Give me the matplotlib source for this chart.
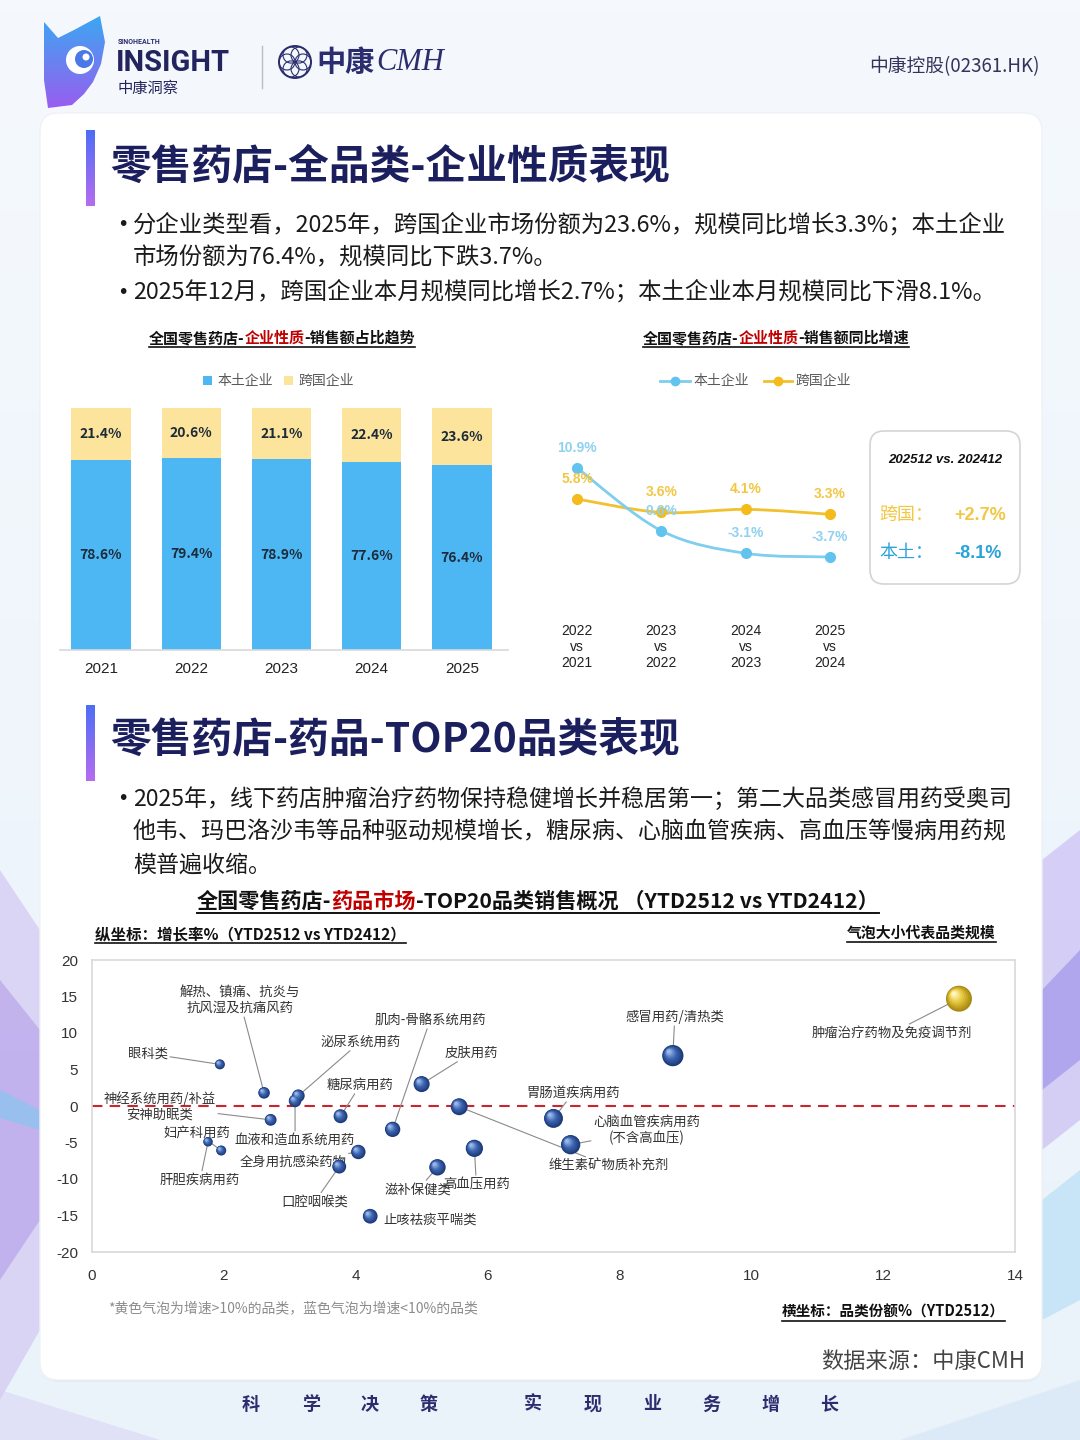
import matplotlib
matplotlib.use('Agg')
import matplotlib.pyplot as plt
import numpy as np
from matplotlib.patches import FancyBboxPatch, Rectangle, Polygon, Circle, PathPatch
from matplotlib.path import Path
import matplotlib.transforms as mtransforms
from matplotlib.colors import to_rgb

plt.rcParams['font.family'] = ['Noto Sans CJK SC', 'DejaVu Sans']
plt.rcParams['axes.unicode_minus'] = False

# ---------------- data ----------------
years = ['2021', '2022', '2023', '2024', '2025']
local_share = [78.6, 79.4, 78.9, 77.6, 76.4]
mnc_share = [21.4, 20.6, 21.1, 22.4, 23.6]

growth_periods = ['2022\nvs\n2021', '2023\nvs\n2022', '2024\nvs\n2023', '2025\nvs\n2024']
local_growth = [10.9, 0.6, -3.1, -3.7]
mnc_growth = [5.8, 3.6, 4.1, 3.3]

month_title = '202512 vs. 202412'
month_mnc = '+2.7%'
month_local = '-8.1%'

categories = ['肿瘤治疗药物及免疫调节剂', '感冒用药/清热类', '心脑血管疾病用药\n(不含高血压)',
              '胃肠道疾病用药', '高血压用药', '维生素矿物质补充剂', '滋补保健类', '皮肤用药',
              '肌肉-骨骼系统用药', '止咳祛痰平喘类', '全身用抗感染药物', '糖尿病用药', '口腔咽喉类',
              '泌尿系统用药', '血液和造血系统用药', '神经系统用药/补益\n安神助眠类',
              '解热、镇痛、抗炎与\n抗风湿及抗痛风药', '肝胆疾病用药', '妇产科用药', '眼科类']
cat_share = [13.15, 8.81, 7.26, 7.0, 5.8, 5.57, 5.24, 5.0, 4.56, 4.22, 4.04, 3.77, 3.75,
             3.13, 3.08, 2.71, 2.61, 1.76, 1.96, 1.94]
cat_growth = [14.7, 6.9, -5.3, -1.7, -5.8, -0.1, -8.4, 3.0, -3.2, -15.1, -6.3, -1.4, -8.3,
              1.4, 0.7, -1.9, 1.8, -4.9, -6.1, 5.7]
market_growth = '-0.3%'

# label placement (layout only)
label_pos = [(12.13, 10.0), (8.84, 12.2), (8.41, -3.3), (7.3, 1.8), (5.83, -10.7),
             (7.83, -8.2), (4.95, -11.4), (5.76, 7.3), (5.13, 11.8), (5.13, -15.6),
             (3.05, -7.6), (4.07, 2.9), (3.38, -13.1), (4.07, 8.8), (3.08, -4.65),
             (1.03, -0.1), (2.24, 14.5), (1.64, -10.1), (1.59, -3.65), (0.85, 7.2)]
no_leader = {'止咳祛痰平喘类'}

W, H = 1080, 1440
fig = plt.figure(figsize=(W / 100, H / 100), dpi=100)
renderer = fig.canvas.get_renderer()

def rect(x0, y0, x1, y1):
    return [x0 / W, 1 - y1 / H, (x1 - x0) / W, (y1 - y0) / H]

ax0 = fig.add_axes([0, 0, 1, 1])
ax0.set_xlim(0, W)
ax0.set_ylim(H, 0)
ax0.axis('off')

# ---------------- background ----------------
bg = np.ones((H // 10, W // 10, 3))
top = np.array(to_rgb('#f5f9fd'))
bot = np.array(to_rgb('#eaf2fa'))
for i in range(bg.shape[0]):
    t = i / (bg.shape[0] - 1)
    bg[i, :, :] = top * (1 - t) + bot * t
ax0.imshow(bg, extent=(0, W, H, 0), aspect='auto', zorder=0)

deco = [
    ([(0, 870), (40, 930), (40, 1330), (0, 1400)], '#cbbcf0', 0.55),
    ([(0, 980), (40, 1030), (40, 1220), (0, 1280)], '#a58ae6', 0.45),
    ([(0, 1090), (40, 1110), (40, 1130), (0, 1118)], '#7fc9f0', 0.6),
    ([(0, 1390), (160, 1440), (0, 1440)], '#d6ccf3', 0.45),
    ([(1042, 860), (1080, 830), (1080, 1120), (1042, 1150)], '#bdaaf2', 0.5),
    ([(1042, 990), (1080, 950), (1080, 1060), (1042, 1090)], '#6c5ce0', 0.35),
    ([(1042, 1200), (1080, 1170), (1080, 1300), (1042, 1320)], '#9fd3f4', 0.45),
    ([(900, 1440), (1080, 1380), (1080, 1440)], '#d3e6f7', 0.6),
]
for pts, c, a in deco:
    ax0.add_patch(Polygon(pts, closed=True, fc=c, ec='none', alpha=a, zorder=0.5))

ax0.add_patch(FancyBboxPatch((42, 117), 1000, 1265, boxstyle='round,pad=0,rounding_size=18',
                             fc='#dfe6ee', ec='none', alpha=0.6, zorder=0.8))
ax0.add_patch(FancyBboxPatch((40, 113), 1002, 1267, boxstyle='round,pad=0,rounding_size=18',
                             fc='white', ec='#eef1f5', lw=1, zorder=1))

# ---------------- header ----------------
logo_poly = Polygon([(44, 22), (58, 38), (74, 30), (100, 16), (105, 42), (101, 64), (93, 82),
                     (84, 94), (72, 105), (48, 108), (44, 80)], closed=True, fc='none', ec='none')
ax0.add_patch(logo_poly)
grad = np.zeros((60, 10, 3))
c1, c2 = np.array(to_rgb('#3aa8f2')), np.array(to_rgb('#9a5cf0'))
for i in range(60):
    t = i / 59
    grad[i, :, :] = c1 * (1 - t) + c2 * t
im = ax0.imshow(grad, extent=(40, 110, 110, 14), aspect='auto', zorder=2)
im.set_clip_path(logo_poly)
ax0.add_patch(Circle((80, 60), 14, fc='white', ec='none', zorder=3))
ax0.add_patch(Circle((84, 59), 9, fc='#4a78e6', ec='none', zorder=3.1))
ax0.add_patch(Circle((86, 57), 3.5, fc='white', ec='none', zorder=3.2))

ax0.text(118, 42, 'SINOHEALTH', fontsize=5, fontweight='bold', color='#2b2d6e', va='center',
         family=['Roboto', 'DejaVu Sans'], zorder=3)
ax0.text(116, 63, 'INSIGHT', fontsize=21, fontweight='bold', color='#23245e', va='center',
         family=['Roboto', 'DejaVu Sans'], zorder=3)
ax0.text(118, 88, '中康洞察', fontsize=11, color='#23245e', va='center', zorder=3)
ax0.plot([262, 262], [46, 88], color='#b8bcc8', lw=1, zorder=3)
ax0.add_patch(Circle((295, 62), 16, fc='none', ec='#2b2d6e', lw=1.4, zorder=3))
for ang in np.arange(0, 360, 60):
    r = np.deg2rad(ang)
    ax0.add_patch(Circle((295 + 8 * np.cos(r), 62 + 8 * np.sin(r)), 8, fc='none',
                         ec='#2b2d6e', lw=0.8, zorder=3))
ax0.text(316, 62, '中康', fontsize=21, fontweight='bold', color='#2b2d6e', va='center', zorder=3)
ax0.text(376, 63, 'CMH', fontsize=22, style='italic', color='#2b2d6e', va='center',
         family=['Liberation Serif', 'DejaVu Serif'], zorder=3)
ax0.text(1040, 67, '中康控股(02361.HK)', fontsize=13.5, color='#33345a', va='center', ha='right', zorder=3)

# ---------------- helpers ----------------
def rich(x, y, parts, size, weight='bold', ha='center', underline=True, ul_off=10, ul_lw=1.2,
         family=None):
    texts, widths = [], []
    for s, c in parts:
        kw = {}
        if family:
            kw['family'] = family
        t = ax0.text(0, y, s, fontsize=size, fontweight=weight, color=c, va='center', ha='left',
                     zorder=5, **kw)
        widths.append(t.get_window_extent(renderer).width)
        texts.append(t)
    total = sum(widths)
    if ha == 'center':
        xs = x - total / 2
    elif ha == 'right':
        xs = x - total
    else:
        xs = x
    x0 = xs
    for t, w in zip(texts, widths):
        t.set_x(xs)
        xs += w
    if underline:
        ax0.plot([x0, xs], [y + ul_off, y + ul_off], color='#111111', lw=ul_lw, zorder=5)

def heading_bar(y0, y1):
    g = np.zeros((50, 2, 3))
    a, b = np.array(to_rgb('#4d6ef5')), np.array(to_rgb('#b56cf0'))
    for i in range(50):
        t = i / 49
        g[i, :, :] = a * (1 - t) + b * t
    ax0.imshow(g, extent=(86, 95, y1, y0), aspect='auto', zorder=3)

def bullet(y, s, size=16.8):
    ax0.text(117, y, '•', fontsize=14, color='#1a1a1a', va='center', zorder=5,
             family=['DejaVu Sans'])
    ax0.text(133, y, s, fontsize=size, color='#1a1a1a', va='center', zorder=5)

def cont(y, s, size=16.8):
    ax0.text(133, y, s, fontsize=size, color='#1a1a1a', va='center', zorder=5)

NAVY = '#1b1f5e'
RED = '#c00000'

# ---------------- section 1 ----------------
heading_bar(130, 206)
ax0.text(110, 167, '零售药店-全品类-企业性质表现', fontsize=29.3, fontweight='bold', color=NAVY,
         va='center', zorder=5)
bullet(225, '分企业类型看，2025年，跨国企业市场份额为23.6%，规模同比增长3.3%；本土企业')
cont(258, '市场份额为76.4%，规模同比下跌3.7%。')
bullet(292, '2025年12月，跨国企业本月规模同比增长2.7%；本土企业本月规模同比下滑8.1%。')

rich(282, 338, [('全国零售药店-', '#111111'), ('企业性质', RED), ('-销售额占比趋势', '#111111')], 10.8,
     ul_off=9)
rich(776, 338, [('全国零售药店-', '#111111'), ('企业性质', RED), ('-销售额同比增速', '#111111')], 10.8,
     ul_off=9)

BLUE_BAR = '#4db7f4'
YEL_BAR = '#fde49c'
ax0.add_patch(Rectangle((203, 376), 9, 9, fc=BLUE_BAR, ec='none', zorder=5))
ax0.text(217, 381, '本土企业', fontsize=10, color='#595959', va='center', zorder=5)
ax0.add_patch(Rectangle((284, 376), 9, 9, fc=YEL_BAR, ec='none', zorder=5))
ax0.text(298, 381, '跨国企业', fontsize=10, color='#595959', va='center', zorder=5)

axb = fig.add_axes(rect(60, 408, 508, 650))
axb.set_facecolor('none')
xb = np.arange(len(years))
axb.bar(xb, local_share, width=0.655, color=BLUE_BAR, zorder=2)
axb.bar(xb, mnc_share, width=0.655, bottom=local_share, color=YEL_BAR, zorder=2)
for i in range(len(years)):
    axb.text(xb[i], local_share[i] / 2, f'{local_share[i]:.1f}%', ha='center', va='center',
             fontsize=10, fontweight='bold', color='#1c2b3a', zorder=3)
    axb.text(xb[i], local_share[i] + mnc_share[i] / 2, f'{mnc_share[i]:.1f}%', ha='center',
             va='center', fontsize=10, fontweight='bold', color='#1c2b3a', zorder=3)
axb.set_xlim(-0.454, 4.51)
axb.set_ylim(0, 100)
axb.set_xticks(xb)
axb.set_xticklabels(years, fontsize=11, color='#222222', family=['Liberation Sans', 'DejaVu Sans'])
axb.tick_params(axis='x', length=0, pad=9)
axb.set_yticks([])
for s in ['top', 'left', 'right']:
    axb.spines[s].set_visible(False)
axb.spines['bottom'].set_color('#d9d9d9')
axb.spines['bottom'].set_linewidth(1.2)

LBLUE = '#7fcdef'
LBLUE_M = '#62c3ee'
LYEL = '#f2c12e'
LYEL_M = '#f4bb1c'
ax0.plot([660, 690], [381, 381], color=LBLUE, lw=2, zorder=5)
ax0.plot([675], [381], 'o', color=LBLUE_M, ms=6, zorder=6)
ax0.text(693, 381, '本土企业', fontsize=10, color='#595959', va='center', zorder=5)
ax0.plot([764, 792], [381, 381], color=LYEL, lw=2, zorder=5)
ax0.plot([778], [381], 'o', color=LYEL_M, ms=6, zorder=6)
ax0.text(795, 381, '跨国企业', fontsize=10, color='#595959', va='center', zorder=5)

axl = fig.add_axes(rect(545, 420, 862, 600))
axl.set_facecolor('none')
xl = np.arange(len(growth_periods))

def smooth_path(xs, ys):
    pts = np.column_stack([xs, ys]).astype(float)
    n = len(pts)
    verts = [pts[0]]
    codes = [Path.MOVETO]
    for i in range(n - 1):
        p0 = pts[max(i - 1, 0)]
        p1 = pts[i]
        p2 = pts[i + 1]
        p3 = pts[min(i + 2, n - 1)]
        c1 = p1 + (p2 - p0) / 6.0
        c2 = p2 - (p3 - p1) / 6.0
        verts += [c1, c2, p2]
        codes += [Path.CURVE4] * 3
    return Path(verts, codes)

axl.add_patch(PathPatch(smooth_path(xl, mnc_growth), fc='none', ec=LYEL, lw=2, zorder=2))
axl.add_patch(PathPatch(smooth_path(xl, local_growth), fc='none', ec=LBLUE, lw=2, zorder=2))
axl.plot(xl, mnc_growth, 'o', color=LYEL_M, ms=7, zorder=3)
axl.plot(xl, local_growth, 'o', color=LBLUE_M, ms=7, zorder=3)
for i in range(len(xl)):
    axl.annotate(f'{mnc_growth[i]:.1f}%', (xl[i], mnc_growth[i]), xytext=(0, 14.5),
                 textcoords='offset points', ha='center', va='center', fontsize=10,
                 fontweight='bold', color='#f2c744', family=['Liberation Sans', 'DejaVu Sans'],
                 zorder=4)
    axl.annotate(f'{local_growth[i]:.1f}%', (xl[i], local_growth[i]), xytext=(0, 14.5),
                 textcoords='offset points', ha='center', va='center', fontsize=10,
                 fontweight='bold', color='#8fd1ef', family=['Liberation Sans', 'DejaVu Sans'],
                 zorder=4)
axl.set_xlim(-0.38, 3.38)
axl.set_ylim(-10.75, 18.75)
axl.set_xticks(xl)
axl.set_xticklabels(growth_periods, fontsize=10, color='#222222', linespacing=1.2,
                    family=['Liberation Sans', 'DejaVu Sans'])
axl.tick_params(axis='x', length=0, pad=17)
axl.set_yticks([])
for s in axl.spines.values():
    s.set_visible(False)

ax0.add_patch(FancyBboxPatch((870, 431), 150, 153, boxstyle='round,pad=0,rounding_size=14',
                             fc='white', ec='#d4d4d4', lw=1.2, zorder=4))
ax0.text(945, 460, month_title, fontsize=9.5, fontweight='bold', style='italic', color='#111111',
         ha='center', va='center', family=['Liberation Sans', 'DejaVu Sans'], zorder=5)
ax0.text(879, 515, '跨国：', fontsize=13, color='#f2c744', va='center', zorder=5)
ax0.text(1006, 515, month_mnc, fontsize=13, fontweight='bold', color='#f2c744', ha='right',
         va='center', family=['Liberation Sans', 'DejaVu Sans'], zorder=5)
ax0.text(879, 553, '本土：', fontsize=13, color='#2aa3dc', va='center', zorder=5)
ax0.text(1002, 553, month_local, fontsize=13, fontweight='bold', color='#2aa3dc', ha='right',
         va='center', family=['Liberation Sans', 'DejaVu Sans'], zorder=5)

# ---------------- section 2 ----------------
heading_bar(705, 781)
ax0.text(110, 741, '零售药店-药品-TOP20品类表现', fontsize=29.3, fontweight='bold', color=NAVY,
         va='center', zorder=5)
bullet(799, '2025年，线下药店肿瘤治疗药物保持稳健增长并稳居第一；第二大品类感冒用药受奥司', 16.55)
cont(832, '他韦、玛巴洛沙韦等品种驱动规模增长，糖尿病、心脑血管疾病、高血压等慢病用药规', 16.55)
cont(865, '模普遍收缩。', 16.55)

rich(538, 901, [('全国零售药店-', '#111111'), ('药品市场', RED),
                ('-TOP20品类销售概况 （YTD2512 vs YTD2412）', '#111111')], 15.2, ul_off=12, ul_lw=1.4)
rich(95, 934, [('纵坐标：增长率%（YTD2512 vs YTD2412）', '#111111')], 11.2, ha='left', ul_off=9)
rich(996, 933, [('气泡大小代表品类规模', '#111111')], 10.7, ha='right', ul_off=9)

axc = fig.add_axes(rect(92, 960, 1015, 1252))
axc.set_facecolor('white')
axc.set_xlim(0, 14)
axc.set_ylim(-20, 20)
axc.set_xticks(np.arange(0, 15, 2))
axc.set_yticks(np.arange(-20, 21, 5))
axc.tick_params(length=0, labelsize=11, colors='#333333')
axc.tick_params(axis='x', pad=12)
axc.tick_params(axis='y', pad=10)
for lab in axc.get_xticklabels() + axc.get_yticklabels():
    lab.set_family(['Liberation Sans', 'DejaVu Sans'])
for s in axc.spines.values():
    s.set_color('#d9d9d9')
    s.set_linewidth(1.2)
axc.axhline(0, color='#c8262c', lw=1.5, ls=(0, (5, 3.5)), zorder=1)

K = 26.6
for name, sx, gy, lp in zip(categories, cat_share, cat_growth, label_pos):
    s = K * sx
    r_pt = np.sqrt(s) / 2
    if gy > 10:
        dark, mid, light = to_rgb('#a88a12'), to_rgb('#e3c33a'), to_rgb('#fff6b8')
    else:
        dark, mid, light = to_rgb('#1d3a78'), to_rgb('#3c65b2'), to_rgb('#9ab8e8')
    if name not in no_leader:
        axc.annotate(name, (sx, gy), xytext=lp, textcoords='data', ha='center', va='center',
                     fontsize=9.6, color='#333333', linespacing=1.15, zorder=2,
                     bbox=dict(boxstyle='square,pad=0.15', fc='none', ec='none'),
                     arrowprops=dict(arrowstyle='-', color='#8a8a8a', lw=0.8,
                                     shrinkA=0, shrinkB=r_pt * 0.6))
    else:
        axc.text(lp[0], lp[1], name, ha='center', va='center', fontsize=9.6, color='#333333',
                 zorder=2)
    n = 9
    for i in range(n):
        t = i / (n - 1)
        frac = 1 - 0.82 * t
        if t < 0.5:
            u = t / 0.5
            col = tuple(np.array(dark) * (1 - u) + np.array(mid) * u)
        else:
            u = (t - 0.5) / 0.5
            col = tuple(np.array(mid) * (1 - u) + np.array(light) * u)
        off = r_pt * 0.38 * t
        tr = mtransforms.offset_copy(axc.transData, fig=fig, x=-off, y=off, units='points')
        axc.scatter([sx], [gy], s=s * frac ** 2, color=[col], edgecolors='none',
                    transform=tr, zorder=5 + i * 0.01)

ax0.text(850, 1132, '全国零售药店市场(YTD2512同比)：', fontsize=12.3, fontweight='bold',
         color='#111111', ha='center', va='center', zorder=6)
ax0.text(996, 1163, market_growth, fontsize=17, fontweight='bold', style='italic', color=RED,
         ha='right', va='center', family=['Liberation Sans', 'DejaVu Sans'], zorder=6)

ax0.text(108, 1308, '*黄色气泡为增速>10%的品类，蓝色气泡为增速<10%的品类', fontsize=10,
         color='#8c8c8c', va='center', style='italic', zorder=5)
rich(1005, 1312, [('横坐标：品类份额%（YTD2512）', '#111111')], 10.5, ha='right', ul_off=9)
ax0.text(1025, 1361, '数据来源：中康CMH', fontsize=16, color='#444444', ha='right', va='center',
         zorder=5)

slogan_chars = ['科', '学', '决', '策', '实', '现', '业', '务', '增', '长']
slogan_x = [251, 311, 370, 429, 533, 593, 652, 711, 770, 829]
for ch, x in zip(slogan_chars, slogan_x):
    ax0.text(x, 1404, ch, fontsize=13, fontweight='bold', color='#2b2d6e', ha='center',
             va='center', zorder=5)

fig.savefig('out.png', dpi=100)
